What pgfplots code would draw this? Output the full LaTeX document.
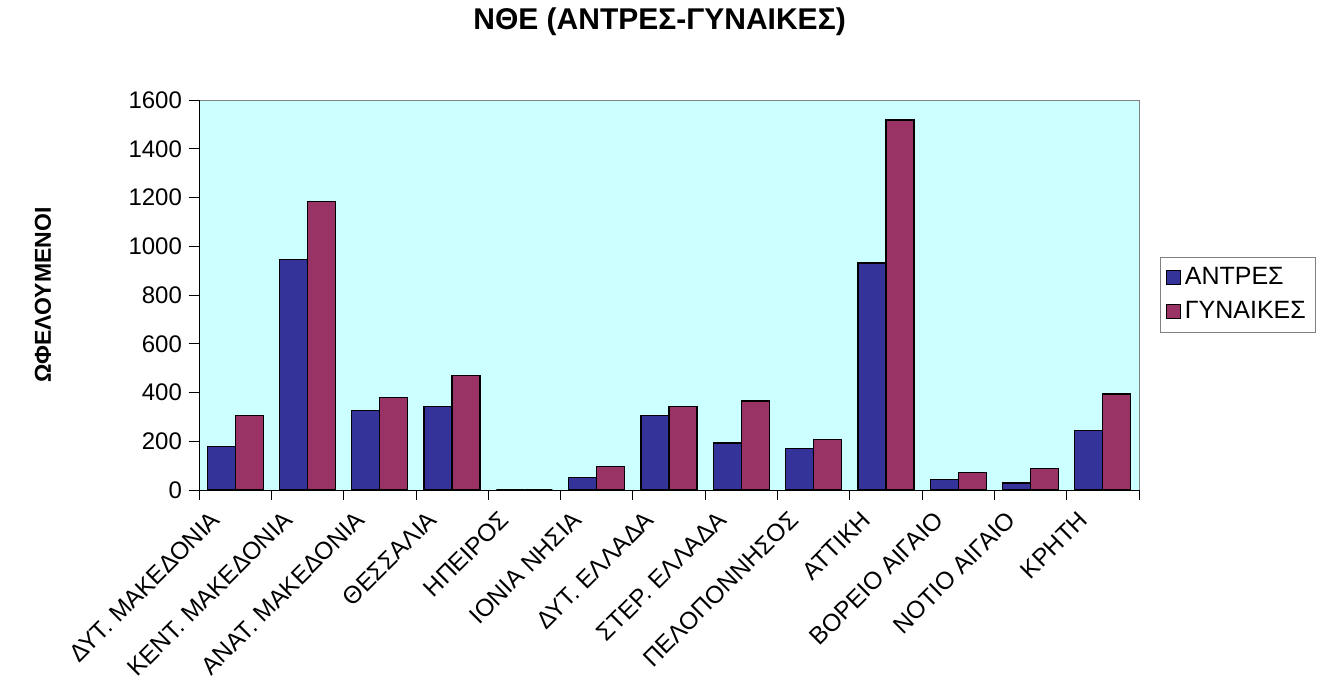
\documentclass[border=0pt]{standalone}
\usepackage{pgfplots}
\pgfplotsset{compat=1.18}
\usepackage{fontspec}
\setmainfont{Liberation Sans}
\definecolor{men}{HTML}{333399}
\definecolor{women}{HTML}{993366}
\definecolor{plotbg}{HTML}{CCFFFF}

\pgfplotstableread{
idx antres gynaikes
0  178  304
1  945  1183
2  327  379
3  342  469
4  0    0
5  52   96
6  304  342
7  193  365
8  171  208
9  931  1518
10 44   72
11 29   89
12 245  394
}\regions

\begin{document}
\begin{tikzpicture}
\path[use as bounding box] (-99.5pt,-97pt) rectangle (568pt,245pt);
\begin{axis}[
    at={(0,0)}, anchor=south west,
    scale only axis,
    width=470pt, height=195pt,
    ybar=0pt, bar width=14pt,
    /pgf/number format/assume math mode=true,
    /pgf/number format/1000 sep={},
    xmin=-0.5, xmax=12.5,
    ymin=0, ymax=1600,
    ytick={0,200,...,1600},
    yticklabel style={font=\fontsize{12}{14}\selectfont},
    xtick={0,...,12},
    xticklabels={ΔΥΤ. ΜΑΚΕΔΟΝΙΑ,ΚΕΝΤ. ΜΑΚΕΔΟΝΙΑ,ΑΝΑΤ. ΜΑΚΕΔΟΝΙΑ,ΘΕΣΣΑΛΙΑ,ΗΠΕΙΡΟΣ,ΙΟΝΙΑ ΝΗΣΙΑ,ΔΥΤ. ΕΛΛΑΔΑ,ΣΤΕΡ. ΕΛΛΑΔΑ,ΠΕΛΟΠΟΝΝΗΣΟΣ,ΑΤΤΙΚΗ,ΒΟΡΕΙΟ ΑΙΓΑΙΟ,ΝΟΤΙΟ ΑΙΓΑΙΟ,ΚΡΗΤΗ},
    xticklabel style={font=\fontsize{12.2}{14}\selectfont, xshift=-9pt, yshift=-7pt, rotate=45, anchor=east, inner sep=1pt},
    major x tick style={draw=none},
    minor xtick={-0.5,0.5,...,12.5},
    minor tick length=5pt,
    major tick length=5pt,
    tick align=outside,
    tick style={black, thin},
    axis x line*=bottom,
    axis y line*=left,
    axis line style={black, thin, -},
    axis background/.style={fill=plotbg, draw=gray, thin},
    title={\bfseries ΝΘΕ (ΑΝΤΡΕΣ-ΓΥΝΑΙΚΕΣ)},
    title style={font=\fontsize{15}{17}\selectfont, at={(0.49,1)}, anchor=base, yshift=29pt},
    ylabel={\bfseries ΩΦΕΛΟΥΜΕΝΟΙ},
    ylabel style={font=\fontsize{11.5}{13}\selectfont, at={(axis description cs:-0.166,0.5)}, anchor=center, rotate=0},
    legend style={at={(1.022,0.597)}, anchor=north west, draw=gray, thin,
        font=\fontsize{12.5}{14}\selectfont, row sep=3pt, inner xsep=3pt, inner ysep=3pt},
    legend cell align=left,
    legend image code/.code={\draw[#1, draw=black, thin] (0pt,-3.5pt) rectangle (7pt,3.5pt);},
]
\addplot[fill=men, draw=black, semithick] table[x=idx, y=antres] {\regions};
\addplot[fill=women, draw=black, semithick] table[x=idx, y=gynaikes] {\regions};
\legend{ΑΝΤΡΕΣ, ΓΥΝΑΙΚΕΣ}
\end{axis}
\end{tikzpicture}
\end{document}
